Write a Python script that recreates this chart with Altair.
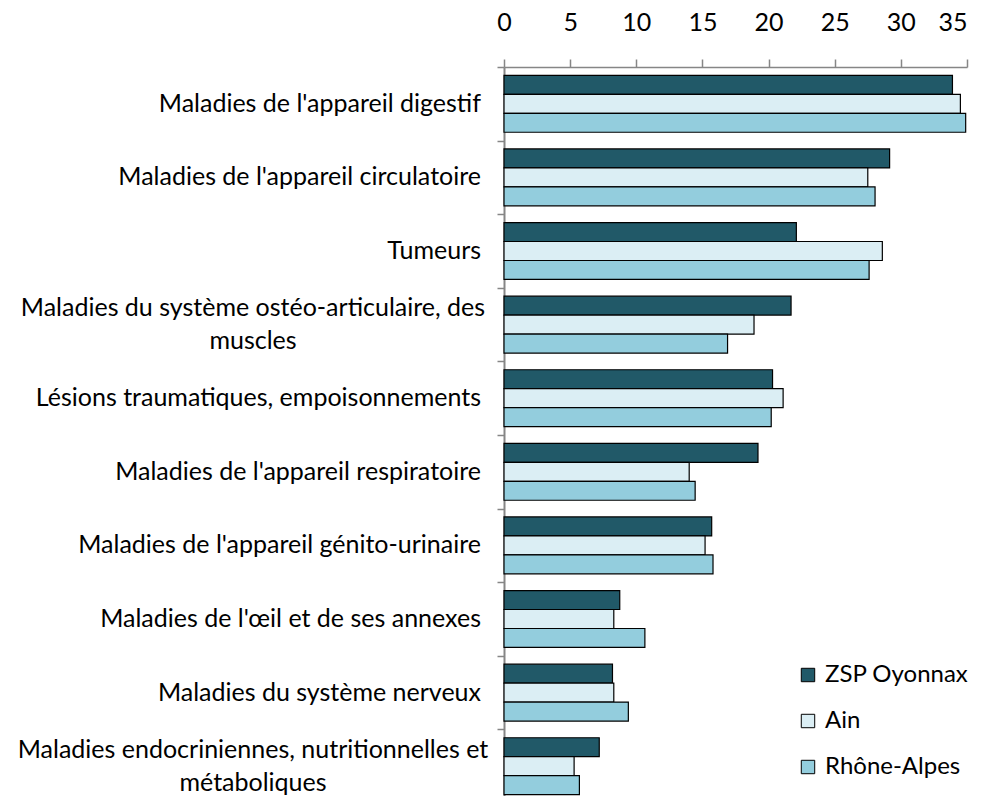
import altair as alt
import pandas as pd

categories = [
    "Maladies de l'appareil digestif",
    "Maladies de l'appareil circulatoire",
    "Tumeurs",
    "Maladies du système ostéo-articulaire, des muscles",
    "Lésions traumatiques, empoisonnements",
    "Maladies de l'appareil respiratoire",
    "Maladies de l'appareil génito-urinaire",
    "Maladies de l'œil et de ses annexes",
    "Maladies du système nerveux",
    "Maladies endocriniennes, nutritionnelles et métaboliques",
]
label_text = [
    "Maladies de l'appareil digestif",
    "Maladies de l'appareil circulatoire",
    "Tumeurs",
    "Maladies du système ostéo-articulaire, des\nmuscles",
    "Lésions traumatiques, empoisonnements",
    "Maladies de l'appareil respiratoire",
    "Maladies de l'appareil génito-urinaire",
    "Maladies de l'œil et de ses annexes",
    "Maladies du système nerveux",
    "Maladies endocriniennes, nutritionnelles et\nmétaboliques",
]
series = ["ZSP Oyonnax", "Ain", "Rhône-Alpes"]
zsp = [33.9, 29.15, 22.1, 21.7, 20.3, 19.2, 15.7, 8.75, 8.2, 7.2]
ain = [34.5, 27.5, 28.6, 18.9, 21.1, 14.0, 15.2, 8.3, 8.3, 5.3]
rhone = [34.9, 28.05, 27.6, 16.9, 20.2, 14.45, 15.8, 10.65, 9.4, 5.7]
x_ticks = [0, 5, 10, 15, 20, 25, 30, 35]
colors = ["#215968", "#DBEEF4", "#93CDDD"]

rows = []
for i, c in enumerate(categories):
    for s, vals in zip(series, [zsp, ain, rhone]):
        rows.append({"cat": c, "serie": s, "val": vals[i]})
df = pd.DataFrame(rows)
lab = pd.DataFrame({
    "cat": categories,
    "label": label_text,
    "multi": ["\n" in t for t in label_text],
})

FONT = "Lato"
AXIS_GREY = "#868686"
FS = 25

yscale = alt.Scale(domain=categories, paddingInner=0, paddingOuter=0)
yaxis = alt.Axis(title=None, labels=False, tickBand="extent", ticks=True, tickSize=7,
                 domainColor=AXIS_GREY, tickColor=AXIS_GREY, domainWidth=2, tickWidth=1.5)
y_enc = alt.Y("cat:N", scale=yscale, axis=yaxis)

xaxis = alt.Axis(
    orient="top", values=x_ticks, title=None, grid=False,
    labelFontSize=FS, labelFont=FONT, labelColor="black",
    labelFlush=False, labelOverlap=False,
    labelAlign={"condition": {"test": "datum.value == 35", "value": "right"}, "value": "center"},
    domainColor=AXIS_GREY, tickColor=AXIS_GREY, tickSize=8,
    labelPadding=24, domainWidth=1.5, tickWidth=1.5,
)

bars = alt.Chart(df).mark_bar(stroke="black", strokeWidth=1.2).encode(
    x=alt.X("val:Q", scale=alt.Scale(domain=[0, 35], nice=False), axis=xaxis),
    y=y_enc,
    yOffset=alt.YOffset("serie:N", scale=alt.Scale(domain=series, paddingOuter=0.44, paddingInner=0)),
    color=alt.Color("serie:N", scale=alt.Scale(domain=series, range=colors),
                    legend=alt.Legend(title=None, orient="none", legendX=292, legendY=596,
                                      symbolType="square", symbolSize=180,
                                      symbolStrokeColor="black", symbolStrokeWidth=1,
                                      labelFont=FONT, labelFontSize=24, labelColor="black",
                                      rowPadding=22, labelOffset=5, padding=0,
                                      symbolOpacity=1)),
)

txt_single = alt.Chart(lab).transform_filter("!datum.multi").mark_text(
    align="right", baseline="middle", font=FONT, fontSize=FS, color="black"
).encode(y=y_enc, x=alt.value(-23), text="label:N")

txt_multi = alt.Chart(lab).transform_filter("datum.multi").mark_text(
    align="center", baseline="middle", font=FONT, fontSize=FS, color="black",
    lineBreak="\n", lineHeight=33, dy=-16.5
).encode(y=y_enc, x=alt.value(-251), text="label:N")

chart = alt.layer(bars, txt_single, txt_multi).properties(
    width=463, height=736,
    autosize=alt.AutoSizeParams(type="none"),
    padding={"left": 496, "top": 59, "right": 7, "bottom": 0},
).configure_view(stroke=None)

chart.save("out.html", embed_options={"renderer": "svg", "actions": False})
